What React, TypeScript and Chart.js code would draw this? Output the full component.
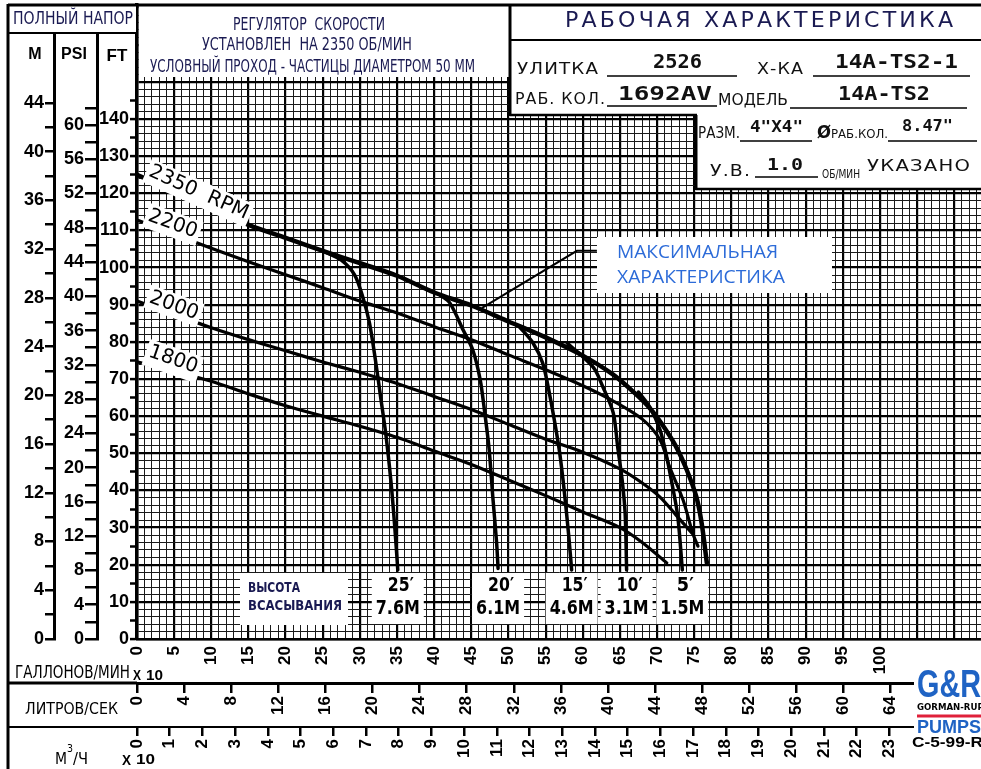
import React, { useEffect, useRef } from 'react';
import { Chart, registerables } from 'chart.js';

Chart.register(...registerables);

// ================= DATA (flow: US GPM x 10, total head: feet) =================
const rpm2350Flow = [0, 5, 10, 15, 20, 25, 30, 35, 40, 45, 50, 55, 60, 64, 67, 69, 70.6, 72.5, 74, 75.3, 76, 76.7];
const rpm2350Head = [125, 120.5, 116, 111.5, 108, 104.5, 101.2, 97.8, 93.3, 89.8, 85.5, 81.2, 76.3, 71.3, 66.2, 62.2, 58, 52, 45.5, 38.2, 31.2, 20.5];

const rpm2200Flow = [0, 5, 10, 15, 20, 25, 30, 35, 40, 45, 50, 55, 60, 64, 68, 70.4, 71.7, 73.5, 74.8, 75.5];
const rpm2200Head = [112.8, 109, 105.2, 101.6, 98.1, 94.6, 91, 87.8, 84.1, 80.6, 76.5, 72.5, 68.2, 64.2, 59.2, 53.6, 46.3, 37.4, 28.5, 25];

const rpm2000Flow = [0, 5, 10, 15, 20, 25, 30, 35, 40, 45, 50, 55, 60, 65, 68, 70.4, 72.5, 74.7];
const rpm2000Head = [91, 87.4, 83.8, 80.6, 77.6, 74.6, 71.8, 68.8, 65.3, 61.8, 57.8, 53.8, 50.3, 45.8, 42, 38.2, 33.5, 28.5];

const rpm1800Flow = [0, 5, 10, 15, 20, 25, 30, 35, 40, 45, 50, 55, 60, 65, 68, 71.3];
const rpm1800Head = [74.6, 72.1, 69.4, 66, 62.8, 60, 57.3, 54.3, 50.6, 47, 42.8, 38.6, 34.2, 30, 26, 20.5];

// suction-lift limit curves
const lift25Flow = [25.2, 27.5, 29.3, 30.4, 31.3, 32.1, 32.8, 33.5, 34.2, 34.7, 35.1];
const lift25Head = [104.3, 102, 98, 92, 85, 75, 65, 55, 42, 30, 18.6];
const lift20Flow = [40.8, 42.1, 43.9, 45.2, 46.2, 46.8, 47.4, 47.9, 48.4, 48.6];
const lift20Head = [92.6, 90.5, 83.2, 77.8, 69.7, 61, 51, 38, 26, 19];
const lift15Flow = [51.5, 53.3, 54.6, 55.6, 56.4, 56.9, 57.5, 58.1, 58.5];
const lift15Head = [84, 79.7, 74.3, 65.2, 56.3, 50, 40, 28, 18.6];
const lift10Flow = [57.9, 61.4, 62.7, 64.1, 64.7, 65.3, 65.7, 65.9];
const lift10Head = [79.7, 73.2, 67.9, 60.9, 51.7, 42.8, 33.9, 18.6];
const lift5Flow = [67.5, 69, 70.4, 71.3, 72.1, 72.8, 73.4];
const lift5Head = [66.5, 62.5, 56.3, 49, 40.9, 32.8, 18.6];

// leader line to "МАКСИМАЛЬНАЯ ХАРАКТЕРИСТИКА"
const leaderFlow = [46.4, 59.2, 61.9];
const leaderHead = [89.1, 104.5, 104.5];

const rpmLabels = ['2350  RPM', '2200', '2000', '1800'];
const liftFeetLabels = ['25′', '20′', '15′', '10′', '5′'];
const liftMeterLabels = ['7.6M', '6.1M', '4.6M', '3.1M', '1.5M'];

// tick labels
const gpmTickLabels = [0, 5, 10, 15, 20, 25, 30, 35, 40, 45, 50, 55, 60, 65, 70, 75, 80, 85, 90, 95, 100];
const lpsTickLabels = [0, 4, 8, 12, 16, 20, 24, 28, 32, 36, 40, 44, 48, 52, 56, 60, 64];
const m3hTickLabels = [0, 1, 2, 3, 4, 5, 6, 7, 8, 9, 10, 11, 12, 13, 14, 15, 16, 17, 18, 19, 20, 21, 22, 23];
const meterTickLabels = [0, 4, 8, 12, 16, 20, 24, 28, 32, 36, 40, 44];
const psiTickLabels = [0, 4, 8, 12, 16, 20, 24, 28, 32, 36, 40, 44, 48, 52, 56, 60];
const feetTickLabels = [0, 10, 20, 30, 40, 50, 60, 70, 80, 90, 100, 110, 120, 130, 140];

// ================= unit relations / extents =================
const FLOW_MAX = 113.6;
const HEAD_MAX = 170.7;
const FT_PER_M = 3.28084;
const FT_PER_PSI = 2.3067;
const FLOW_PER_LPS = 1.58503;
const FLOW_PER_M3H10 = 4.40287;

const NAVY = '#1a1a52';
const BLUE = '#2c6bd8';
const NARROW = '"Liberation Sans Narrow", "DejaVu Sans Condensed", "Arial Narrow", sans-serif';
const SANS = '"DejaVu Sans", "Liberation Sans", sans-serif';
const ARIAL = '"Liberation Sans", Arial, sans-serif';
const MONO = '"DejaVu Sans Mono", "Liberation Mono", monospace';

const steps = (from: number, to: number, step: number) => {
  const a: number[] = [];
  for (let v = from; v <= to + 1e-9; v += step) a.push(Math.round(v * 1000) / 1000);
  return a;
};

const curves = [
  { name: '2350 RPM', flow: rpm2350Flow, head: rpm2350Head, width: 4.5 },
  { name: '2200 RPM', flow: rpm2200Flow, head: rpm2200Head, width: 3.2 },
  { name: '2000 RPM', flow: rpm2000Flow, head: rpm2000Head, width: 3.2 },
  { name: '1800 RPM', flow: rpm1800Flow, head: rpm1800Head, width: 3.2 },
];
const liftCurves = [
  { name: '25 ft', flow: lift25Flow, head: lift25Head },
  { name: '20 ft', flow: lift20Flow, head: lift20Head },
  { name: '15 ft', flow: lift15Flow, head: lift15Head },
  { name: '10 ft', flow: lift10Flow, head: lift10Head },
  { name: '5 ft', flow: lift5Flow, head: lift5Head },
];

// label placement along the speed curves (flow position, angle, lift above line)
const rpmLabelPlace = [
  { at: 7.8, angle: 24, lift: 9 },
  { at: 4.4, angle: 20, lift: 9 },
  { at: 4.6, angle: 20, lift: 8 },
  { at: 4.4, angle: 19, lift: 11 },
];

function interp(xs: number[], ys: number[], x: number) {
  for (let i = 0; i < xs.length - 1; i++) {
    if (x >= xs[i] && x <= xs[i + 1]) {
      const t = (x - xs[i]) / (xs[i + 1] - xs[i]);
      return ys[i] + t * (ys[i + 1] - ys[i]);
    }
  }
  return ys[ys.length - 1];
}

function fitText(c: any, s: string, x0: number, x1: number, y: number, font: string, color = '#000', spacing = 0) {
  c.save();
  c.font = font;
  c.letterSpacing = spacing + 'px';
  c.fillStyle = color;
  c.textAlign = 'left';
  c.textBaseline = 'middle';
  const w = c.measureText(s).width - spacing;
  c.translate(x0, y);
  c.scale((x1 - x0) / w, 1);
  c.fillText(s, 0, 0);
  c.restore();
}
function centerText(c: any, s: string, x: number, y: number, font: string, color = '#000') {
  c.save();
  c.font = font;
  c.fillStyle = color;
  c.textAlign = 'center';
  c.textBaseline = 'middle';
  c.fillText(s, x, y);
  c.restore();
}
function hline(c: any, x0: number, x1: number, y: number, w: number, color = '#000') {
  c.save();
  c.strokeStyle = color;
  c.lineWidth = w;
  c.beginPath();
  c.moveTo(x0, y);
  c.lineTo(x1, y);
  c.stroke();
  c.restore();
}
function vline(c: any, x: number, y0: number, y1: number, w: number, color = '#000') {
  c.save();
  c.strokeStyle = color;
  c.lineWidth = w;
  c.beginPath();
  c.moveTo(x, y0);
  c.lineTo(x, y1);
  c.stroke();
  c.restore();
}
function white(c: any, x: number, y: number, w: number, h: number) {
  c.save();
  c.fillStyle = '#fff';
  c.fillRect(x, y, w, h);
  c.restore();
}

const decor = {
  id: 'decor',
  afterDraw(chart: any) {
    const c = chart.ctx;
    const xs = chart.scales.x;
    const ys = chart.scales.y;

    // ---- labels on the speed curves ----
    curves.forEach((cv, i) => {
      const p = rpmLabelPlace[i];
      const px = xs.getPixelForValue(p.at);
      const py = ys.getPixelForValue(interp(cv.flow, cv.head, p.at));
      c.save();
      c.translate(px, py);
      c.rotate((p.angle * Math.PI) / 180);
      c.translate(0, -p.lift);
      c.font = '20px ' + SANS;
      const w = c.measureText(rpmLabels[i]).width;
      c.fillStyle = '#fff';
      c.fillRect(-w / 2 - 3, -12, w + 6, 16 + p.lift);
      c.fillStyle = '#000';
      c.textAlign = 'center';
      c.textBaseline = 'middle';
      c.fillText(rpmLabels[i], 0, 0);
      c.restore();
    });

    // ---- МАКСИМАЛЬНАЯ ХАРАКТЕРИСТИКА ----
    white(c, 597, 237, 235, 56);
    fitText(c, 'МАКСИМАЛЬНАЯ', 617, 778, 253, '18px "Open Sans", ' + SANS, BLUE);
    fitText(c, 'ХАРАКТЕРИСТИКА', 617, 785, 278, '18px "Open Sans", ' + SANS, BLUE);

    // ---- suction lift labels ----
    liftCurves.forEach((lc, i) => {
      const cx = xs.getPixelForValue(lc.flow[lc.flow.length - 1]);
      white(c, cx - 26, 573, 52, 51);
      const fw = i === 4 ? 17 : 26;
      fitText(c, liftFeetLabels[i], cx - fw / 2 + 3, cx + fw / 2 + 3, 586, 'bold 20px ' + SANS);
      fitText(c, liftMeterLabels[i], cx - 22, cx + 22, 609, 'bold 20px ' + SANS);
    });
    white(c, 240, 573, 108, 52);
    fitText(c, 'ВЫСОТА', 248, 300, 588, 'bold 14px ' + NARROW, NAVY);
    fitText(c, 'ВСАСЫВАНИЯ', 248, 342, 606, 'bold 14px ' + NARROW, NAVY);

    // ---- top-left note box ----
    white(c, 139, 6, 370, 71);
    fitText(c, 'РЕГУЛЯТОР  СКОРОСТИ', 233, 385, 25, '18px ' + NARROW, NAVY);
    fitText(c, 'УСТАНОВЛЕН  НА 2350 ОБ/МИН', 202, 412, 45, '18px ' + NARROW, NAVY);
    fitText(c, 'УСЛОВНЫЙ ПРОХОД - ЧАСТИЦЫ ДИАМЕТРОМ 50 ММ', 150, 475, 67, '18px ' + NARROW, NAVY);

    // ---- title block ----
    white(c, 511, 6, 470, 109);
    white(c, 697, 114, 284, 75);
    fitText(c, 'РАБОЧАЯ ХАРАКТЕРИСТИКА', 565, 953, 22, '21px ' + SANS, NAVY, 3);
    hline(c, 510, 981, 40, 2);
    fitText(c, 'УЛИТКА', 517, 598, 70, '16px ' + SANS, '#111', 1);
    hline(c, 607, 737, 76, 1.5);
    fitText(c, '2526', 653, 702, 63, 'bold 19px ' + MONO, '#111');
    fitText(c, 'Х-КА', 757, 803, 70, '16px ' + SANS, '#111', 1);
    hline(c, 813, 970, 76, 1.5);
    fitText(c, '14A-TS2-1', 835, 958, 63, 'bold 19px ' + MONO, '#111');
    fitText(c, 'РАБ. КОЛ.', 515, 605, 100, '16px ' + SANS, '#111', 1);
    hline(c, 607, 717, 106, 1.5);
    fitText(c, '1692AV', 618, 712, 95, 'bold 19px ' + MONO, '#111');
    fitText(c, 'МОДЕЛЬ', 718, 788, 101, '16px ' + SANS, '#111');
    hline(c, 790, 967, 108, 1.5);
    fitText(c, '14A-TS2', 838, 930, 95, 'bold 19px ' + MONO, '#111');
    fitText(c, 'РАЗМ.', 698, 740, 134, '15px ' + NARROW, '#111');
    hline(c, 740, 812, 141, 1.5);
    fitText(c, '4"X4"', 750, 803, 128, 'bold 16px ' + MONO, '#111');
    fitText(c, 'Ø', 817, 831, 133, 'bold 18px ' + SANS, '#111');
    fitText(c, 'РАБ.КОЛ.', 831, 888, 135, '12px ' + NARROW, '#111');
    hline(c, 888, 977, 141, 1.5);
    fitText(c, '8.47"', 902, 953, 127, 'bold 16px ' + MONO, '#111');
    fitText(c, 'У.В.', 710, 750, 172, '16px ' + SANS, '#111', 1);
    fitText(c, '1.0', 767, 803, 166, 'bold 16px ' + MONO, '#111');
    hline(c, 755, 818, 177, 1.5);
    fitText(c, 'ОБ/МИН', 822, 860, 175, '12px ' + NARROW, '#111');
    fitText(c, 'УКАЗАНО', 867, 970, 167, '16px ' + SANS, '#111', 1);
    vline(c, 510, 5, 116, 3);
    hline(c, 510, 697, 115, 2.5);
    vline(c, 696, 115, 190, 3);
    hline(c, 696, 981, 189, 2.5);

    // ---- left header ----
    white(c, 10, 6, 126, 26);
    fitText(c, 'ПОЛНЫЙ НАПОР', 13, 133, 20, '17px ' + NARROW, NAVY);
    hline(c, 8, 137, 33, 2);
    centerText(c, 'M', 35, 55, 'bold 16px ' + ARIAL);
    centerText(c, 'PSI', 74, 55, 'bold 16px ' + ARIAL);
    centerText(c, 'FT', 117, 56, 'bold 17px ' + ARIAL);

    // ---- frame ----
    hline(c, 8, 981, 5, 3);
    vline(c, 8, 4, 769, 3);
    hline(c, 8, 137, 683, 3);
    hline(c, 8, 137, 727, 2);

    // ---- bottom axis titles ----
    fitText(c, 'ГАЛЛОНОВ/МИН', 15, 130, 674, '17px ' + NARROW);
    fitText(c, 'X', 133, 141, 676, 'bold 14px ' + ARIAL);
    fitText(c, '10', 146, 163, 676, 'bold 15px ' + ARIAL);
    fitText(c, 'ЛИТРОВ/СЕК', 25, 118, 710, '16px ' + NARROW);
    fitText(c, 'М', 55, 67, 760, '16px ' + NARROW);
    fitText(c, '3', 67, 73, 749, '11px ' + NARROW);
    fitText(c, '/Ч', 73, 88, 760, '16px ' + NARROW);
    fitText(c, 'X', 122, 131, 761, 'bold 14px ' + ARIAL);
    fitText(c, '10', 136, 155, 760, 'bold 15px ' + ARIAL);

    // ---- logo ----
    white(c, 914, 665, 67, 104);
    fitText(c, 'G&R', 917, 981, 687, 'bold 38px ' + ARIAL, '#1f63c4');
    fitText(c, 'GORMAN-RUPP', 917, 990, 708, 'bold 9px ' + NARROW, '#000');
    hline(c, 917, 981, 716, 3, '#e0203a');
    fitText(c, 'PUMPS', 917, 981, 728, 'bold 19px ' + ARIAL, '#1f63c4');
    fitText(c, 'C-5-99-R', 912, 983, 743, 'bold 14px ' + ARIAL, '#000');
  },
};

const tickFont = { family: '"Liberation Sans", Arial, sans-serif', size: 18, weight: 'bold' as const };
const tickFontX = { family: '"Liberation Sans", Arial, sans-serif', size: 17, weight: 'bold' as const };

const fixWidth = (w: number) => (s: any) => {
  s.width = w;
  s.paddingTop = 0;
  s.paddingBottom = 0;
  s.paddingLeft = 0;
  s.paddingRight = 0;
};
const fixHeight = (h: number) => (s: any) => {
  s.height = h;
  s.paddingTop = 0;
  s.paddingBottom = 0;
  s.paddingLeft = 0;
  s.paddingRight = 0;
};

const tv = (c: any) => (c && c.tick ? c.tick.value : -1);

export default function App() {
  const ref = useRef<HTMLCanvasElement>(null);
  useEffect(() => {
    const canvas = ref.current;
    if (!canvas) return;
    const datasets: any[] = [];
    curves.forEach((cv) =>
      datasets.push({
        label: cv.name,
        xAxisID: 'x',
        yAxisID: 'y',
        data: cv.flow.map((x, i) => ({ x, y: cv.head[i] })),
        borderColor: '#000',
        borderWidth: cv.width,
        pointRadius: 0,
        tension: 0.3,
        fill: false,
        borderCapStyle: 'round',
        borderJoinStyle: 'round',
      })
    );
    liftCurves.forEach((lc) =>
      datasets.push({
        label: lc.name,
        xAxisID: 'x',
        yAxisID: 'y',
        data: lc.flow.map((x, i) => ({ x, y: lc.head[i] })),
        borderColor: '#000',
        borderWidth: 3.5,
        pointRadius: 0,
        tension: 0.3,
        fill: false,
        borderCapStyle: 'round',
      })
    );
    datasets.push({
      label: 'leader',
      xAxisID: 'x',
      yAxisID: 'y',
      data: leaderFlow.map((x, i) => ({ x, y: leaderHead[i] })),
      borderColor: '#000',
      borderWidth: 2,
      pointRadius: 0,
      tension: 0,
      fill: false,
    });

    const chart = new Chart(canvas, {
      type: 'line',
      data: { datasets },
      plugins: [decor],
      options: {
        responsive: false,
        animation: false,
        events: [],
        layout: { padding: { left: 8, top: 5, right: 0, bottom: 0 } },
        plugins: { legend: { display: false }, tooltip: { enabled: false } },
        scales: {
          x: {
            type: 'linear',
            position: 'bottom',
            weight: 0,
            min: 0,
            max: FLOW_MAX,
            afterBuildTicks: (s: any) => {
              s.ticks = steps(0, 113, 1).map((value) => ({ value }));
            },
            afterFit: fixHeight(44),
            ticks: {
              autoSkip: false,
              minRotation: 90,
              maxRotation: 90,
              padding: 7,
              color: '#000',
              font: tickFontX,
              callback: (v: any) => (gpmTickLabels.includes(v) ? String(v) : ''),
            },
            grid: {
              drawTicks: false,
              color: (c: any) => (tv(c) % 5 === 0 ? '#000' : '#1a1a1a'),
              lineWidth: (c: any) => (tv(c) % 5 === 0 ? 2.2 : 1),
            },
            border: { display: true, color: '#000', width: 2.5 },
          },
          lps: {
            type: 'linear',
            position: 'bottom',
            weight: 1,
            min: 0,
            max: FLOW_MAX / FLOW_PER_LPS,
            afterBuildTicks: (s: any) => {
              s.ticks = lpsTickLabels.map((value) => ({ value }));
            },
            afterFit: fixHeight(44),
            ticks: { autoSkip: false, minRotation: 90, maxRotation: 90, padding: 3, color: '#000', font: tickFontX },
            grid: { drawOnChartArea: false, tickLength: 10, color: '#000', lineWidth: 2.5 },
            border: { display: true, color: '#000', width: 3 },
          },
          m3h: {
            type: 'linear',
            position: 'bottom',
            weight: 2,
            min: 0,
            max: FLOW_MAX / FLOW_PER_M3H10,
            afterBuildTicks: (s: any) => {
              s.ticks = m3hTickLabels.map((value) => ({ value }));
            },
            afterFit: fixHeight(42),
            ticks: { autoSkip: false, minRotation: 90, maxRotation: 90, padding: 3, color: '#000', font: tickFontX },
            grid: { drawOnChartArea: false, tickLength: 9, color: '#000', lineWidth: 2.5 },
            border: { display: true, color: '#000', width: 2 },
          },
          y: {
            type: 'linear',
            position: 'left',
            weight: 1,
            min: 0,
            max: HEAD_MAX,
            afterBuildTicks: (s: any) => {
              s.ticks = steps(0, 170, 1).map((value) => ({ value }));
            },
            afterFit: fixWidth(40),
            ticks: {
              autoSkip: false,
              padding: 1,
              color: '#000',
              font: tickFont,
              callback: (v: any) => (feetTickLabels.includes(v) ? String(v) : ''),
            },
            grid: {
              tickLength: 7,
              color: (c: any) => (tv(c) % 2 === 0 ? (tv(c) % 10 === 0 ? '#000' : '#1a1a1a') : 'rgba(0,0,0,0)'),
              lineWidth: (c: any) => (tv(c) % 10 === 0 ? 2.2 : 1),
              tickColor: (c: any) => (tv(c) % 5 === 0 && tv(c) <= 145 ? '#000' : 'rgba(0,0,0,0)'),
              tickWidth: 2.5,
            },
            border: { display: true, color: '#000', width: 3.5 },
          },
          m: {
            type: 'linear',
            position: 'left',
            weight: 3,
            min: 0,
            max: HEAD_MAX / FT_PER_M,
            afterBuildTicks: (s: any) => {
              s.ticks = steps(0, 44, 2).map((value) => ({ value }));
            },
            afterFit: fixWidth(46),
            ticks: {
              autoSkip: false,
              padding: 1,
              color: '#000',
              font: tickFont,
              callback: (v: any) => (meterTickLabels.includes(v) ? String(v) : ''),
            },
            grid: { drawOnChartArea: false, tickLength: 9, color: '#000', lineWidth: 2.5 },
            border: { display: true, color: '#000', width: 3 },
          },
          psi: {
            type: 'linear',
            position: 'left',
            weight: 2,
            min: 0,
            max: HEAD_MAX / FT_PER_PSI,
            afterBuildTicks: (s: any) => {
              s.ticks = steps(0, 62, 2).map((value) => ({ value }));
            },
            afterFit: fixWidth(43),
            ticks: {
              autoSkip: false,
              padding: 1,
              color: '#000',
              font: tickFont,
              callback: (v: any) => (psiTickLabels.includes(v) ? String(v) : ''),
            },
            grid: { drawOnChartArea: false, tickLength: 12, color: '#000', lineWidth: 2.5 },
            border: { display: true, color: '#000', width: 3 },
          },
        },
      } as any,
    });
    return () => chart.destroy();
  }, []);

  return (
    <div style={{ position: 'fixed', left: 0, top: 0, width: 981, height: 769, background: '#fff' }}>
      <canvas ref={ref} width={981} height={769} style={{ display: 'block' }} />
    </div>
  );
}
